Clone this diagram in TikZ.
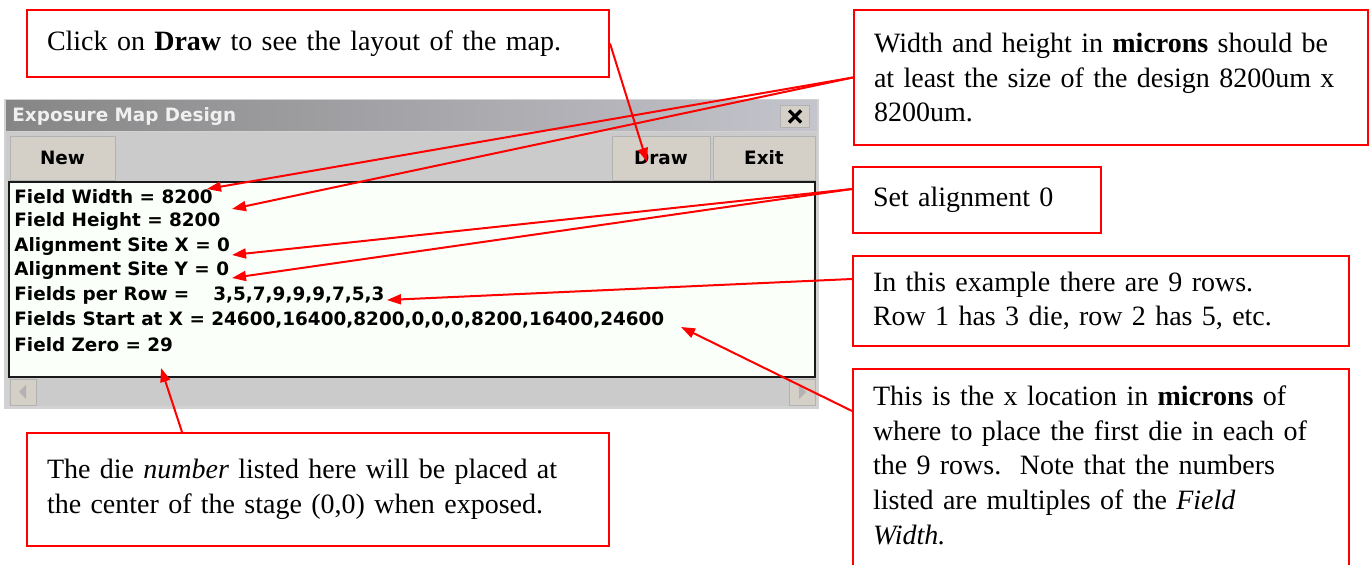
\documentclass[tikz,border=0pt]{standalone}
\usepackage{fontspec}
\setmainfont{Liberation Serif}
\newfontfamily\winfont{DejaVu Sans}
\usetikzlibrary{calc,arrows.meta}

\definecolor{btnface}{HTML}{D4D0C8}
\definecolor{barface}{HTML}{CBCBCB}
\definecolor{listface}{HTML}{FBFFF9}
\definecolor{titleleft}{HTML}{868686}
\definecolor{titleright}{HTML}{C4C4CC}

\begin{document}
\begin{tikzpicture}[x=0.5pt, y=-0.5pt,
    callout/.style={shape=rectangle, draw=red, line width=1pt, fill=white, align=left,
        inner xsep=10pt, inner ysep=0pt, font=\fontsize{14}{17.3}\selectfont},
    winline/.style={anchor=west, inner sep=0pt, font=\winfont\bfseries\fontsize{9.2}{11}\selectfont},
    winbtn/.style={shape=rectangle, draw=gray!60, fill=btnface, inner sep=0pt,
        font=\winfont\bfseries\fontsize{9.2}{11}\selectfont},
    pointer/.style={draw=red, line width=1pt, -{Triangle[length=7pt,width=5pt]}}]
    \useasboundingbox (0,0) rectangle (1370,565);
    \fill[white] (0,0) rectangle (1370,565);

    % the dialog window
    \fill[gray!35] (4,99) rectangle (819,409);
    \shade[left color=titleleft, right color=titleright] (6,101) rectangle (817,131);
    \node[anchor=west, inner sep=0pt, text=gray!12, font=\winfont\bfseries\fontsize{9.2}{11}\selectfont] (title) at (12,117) {Exposure Map Design};
    \node[winbtn, minimum width=14.5pt, minimum height=11pt] (closebtn) at (795,116.5) {};
    \draw[line width=1.6pt] ($(closebtn.center)+(-6,-6)$) -- ($(closebtn.center)+(6,6)$);
    \draw[line width=1.6pt] ($(closebtn.center)+(-6,6)$) -- ($(closebtn.center)+(6,-6)$);
    \fill[barface] (6,132) rectangle (817,181);
    \node[winbtn, minimum width=52.5pt, minimum height=22pt] (newbtn) at (62.5,158) {New};
    \node[winbtn, minimum width=49pt, minimum height=22pt] (drawbtn) at (661,158) {Draw};
    \node[winbtn, minimum width=51pt, minimum height=22pt] (exitbtn) at (764,158) {Exit};
    \filldraw[fill=listface, draw=gray!20!black, line width=1pt] (9,182) rectangle (815,377);
    \node[winline] (fwidth) at (14,197) {Field Width = 8200};
    \node[winline] (fheight) at (14,221.6) {Field Height = 8200};
    \node[winline] (alignx) at (14,246.2) {Alignment Site X = 0};
    \node[winline] (aligny) at (14,270.8) {Alignment Site Y = 0};
    \node[winline] (perrow) at (14,295.4) {Fields per Row =\hspace{12pt}3,5,7,9,9,9,7,5,3};
    \node[winline] (startx) at (14,320) {Fields Start at X = 24600,16400,8200,0,0,0,8200,16400,24600};
    \node[winline] (fzero) at (14,344.6) {Field Zero = 29};
    \fill[barface] (9,378) rectangle (815,406);
    \node[winbtn, minimum width=13pt, minimum height=13pt] (lscroll) at (23,392) {};
    \node[winbtn, minimum width=13pt, minimum height=13pt] (rscroll) at (802,392) {};
    \fill[gray!60] ($(lscroll.center)+(-4,0)$) -- ($(lscroll.center)+(3,-7)$) -- ($(lscroll.center)+(3,7)$) -- cycle;
    \fill[gray!60] ($(rscroll.center)+(4,0)$) -- ($(rscroll.center)+(-3,-7)$) -- ($(rscroll.center)+(-3,7)$) -- cycle;

    % the notes
    \node[callout, text width=271pt, minimum height=33.5pt] (drawnote) at (318,43.5)
        {Click on \textbf{Draw} to see the layout of the map.};
    \node[callout, text width=237pt, minimum height=67.5pt] (sizenote) at (1111,77.5)
        {Width and height in \textbf{microns} should be\\\mbox{at least the size of the design 8200um x}\\8200um.};
    \node[callout, text width=104pt, minimum height=33pt] (alignnote) at (977,200)
        {Set alignment 0};
    \node[callout, text width=228pt, minimum height=45pt] (rownote) at (1101,301)
        {In this example there are 9 rows.\\Row 1 has 3 die, row 2 has 5, etc.};
    \node[callout, text width=228pt, anchor=north, inner ysep=8.5pt, text depth=100pt] (startnote) at (1101,368)
        {This is the x location in \textbf{microns} of\\where to place the first die in each of\\the 9 rows.\ \ Note that the numbers\\listed are multiples of the \textit{Field}\\\textit{Width.}};
    \node[callout, text width=271pt, minimum height=56.5pt] (zeronote) at (318,489.5)
        {The die \textit{number} listed here will be placed at\\the center of the stage (0,0) when exposed.};

    % arrow tips
    \coordinate (drawtip) at (647,162);
    \coordinate (fwtip) at (207,189);
    \coordinate (fhtip) at (232,209);
    \coordinate (axtip) at (232,255);
    \coordinate (aytip) at (232,278);
    \coordinate (rowtip) at (387,300);
    \coordinate (starttip) at (681,327);
    \coordinate (zerotip) at (161,368);

    \draw[pointer] (drawnote.east) -- (drawtip);
    \draw[pointer] (sizenote.west) -- (fwtip);
    \draw[pointer] (sizenote.west) -- (fhtip);
    \draw[pointer] ($(alignnote.west)+(0,-11)$) -- (axtip);
    \draw[pointer] ($(alignnote.west)+(0,-11)$) -- (aytip);
    \draw[pointer] ($(rownote.west)+(0,-22)$) -- (rowtip);
    \draw[pointer] ($(startnote.north west)+(0,43)$) -- (starttip);
    \draw[pointer] ($(zeronote.north west)+(156,0)$) -- (zerotip);
\end{tikzpicture}
\end{document}
